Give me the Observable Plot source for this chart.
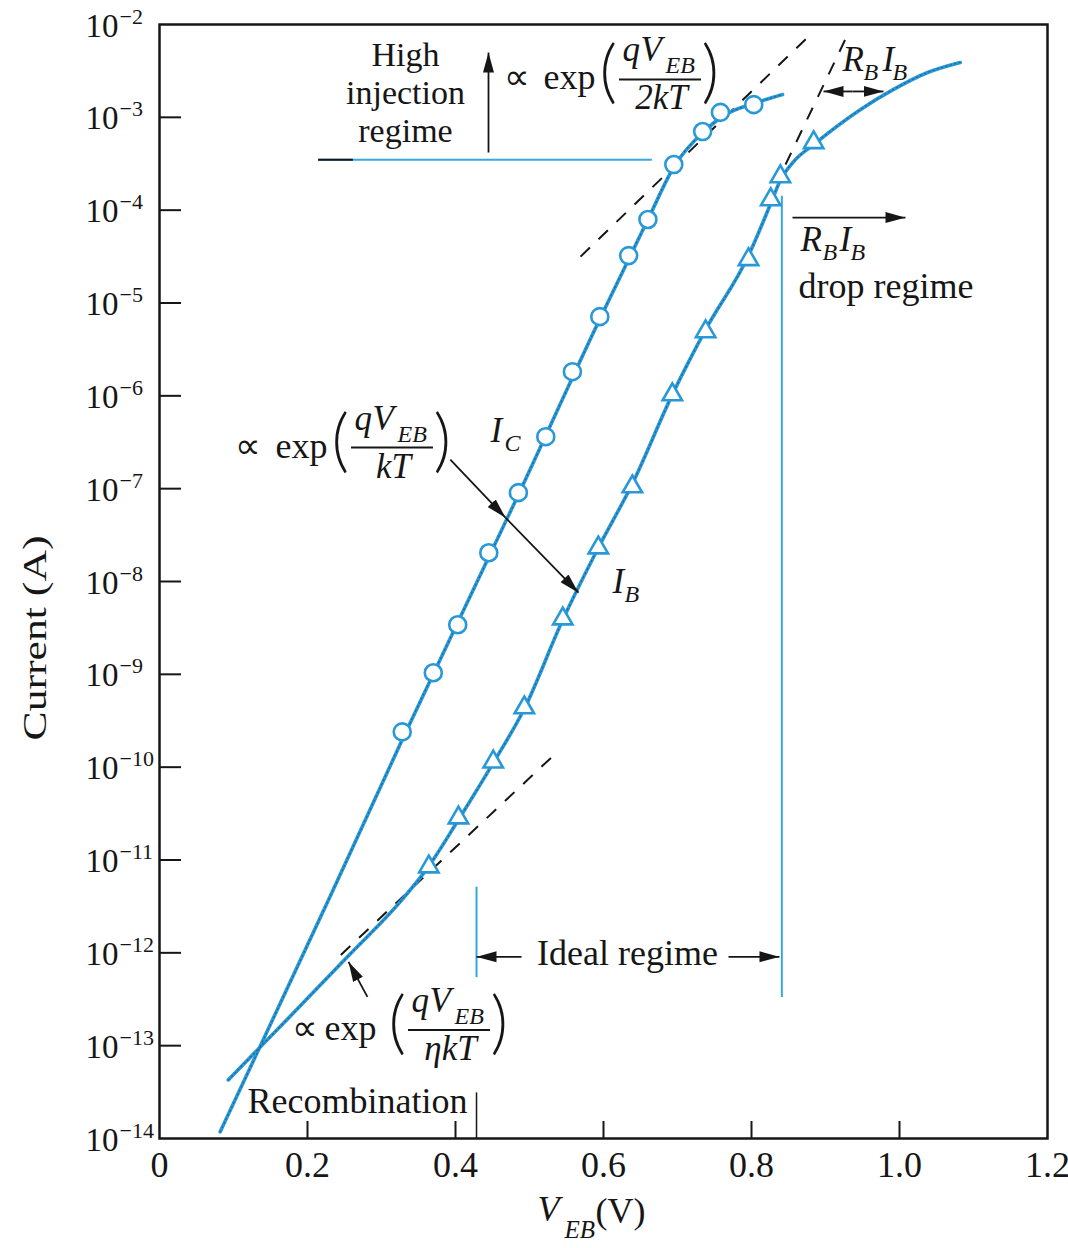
<!DOCTYPE html>
<html>
<head>
<meta charset="utf-8">
<script src="https://cdn.jsdelivr.net/npm/d3@7"></script>
<script src="https://cdn.jsdelivr.net/npm/@observablehq/plot@0.6"></script>
<style>
  html, body { margin: 0; padding: 0; background: #fff; }
</style>
</head>
<body>
<div id="chart"></div>
<script>
// Gummel plot of a bipolar transistor: collector current I_C and base current I_B
// against emitter-base voltage V_EB, with the regimes of operation marked.

// ---- scale ticks ----
const voltageTicks = [0, 0.2, 0.4, 0.6, 0.8, 1.0, 1.2];
const decadeExponents = [-2, -3, -4, -5, -6, -7, -8, -9, -10, -11, -12, -13, -14];

// ---- collector current: traced curve and measured points (V, A) ----
const collectorCurve = [
  {v: 0.082, i: 1.18e-14}, {v: 0.231, i: 4.11e-12}, {v: 0.328, i: 1.97e-10},
  {v: 0.485, i: 8.61e-8}, {v: 0.596, i: 6.97e-6}, {v: 0.660, i: 7.93e-5},
  {v: 0.697, i: 3.10e-4}, {v: 0.734, i: 6.85e-4}, {v: 0.765, i: 1.07e-3},
  {v: 0.803, i: 1.41e-3}, {v: 0.842, i: 1.76e-3}
];
const collectorPoints = [
  {v: 0.328, i: 2.40e-10}, {v: 0.370, i: 1.04e-9}, {v: 0.403, i: 3.42e-9},
  {v: 0.445, i: 2.04e-8}, {v: 0.485, i: 9.06e-8}, {v: 0.522, i: 3.63e-7},
  {v: 0.558, i: 1.82e-6}, {v: 0.595, i: 7.13e-6}, {v: 0.634, i: 3.24e-5},
  {v: 0.660, i: 7.93e-5}, {v: 0.695, i: 3.10e-4}, {v: 0.734, i: 7.03e-4},
  {v: 0.758, i: 1.13e-3}, {v: 0.803, i: 1.37e-3}
];

// ---- base current: traced curve and measured points (V, A) ----
const baseCurve = [
  {v: 0.093, i: 4.28e-14}, {v: 0.177, i: 2.09e-13}, {v: 0.254, i: 9.06e-13},
  {v: 0.326, i: 3.60e-12}, {v: 0.364, i: 8.60e-12}, {v: 0.404, i: 2.71e-11},
  {v: 0.451, i: 1.11e-10}, {v: 0.493, i: 4.26e-10}, {v: 0.545, i: 3.87e-9},
  {v: 0.593, i: 2.31e-8}, {v: 0.639, i: 1.13e-7}, {v: 0.693, i: 1.03e-6},
  {v: 0.738, i: 5.16e-6}, {v: 0.796, i: 3.25e-5}, {v: 0.826, i: 1.18e-4},
  {v: 0.839, i: 2.10e-4}, {v: 0.857, i: 3.34e-4}, {v: 0.884, i: 5.09e-4},
  {v: 0.947, i: 1.21e-3}, {v: 0.992, i: 2.00e-3}, {v: 1.038, i: 3.04e-3},
  {v: 1.082, i: 3.90e-3}
];
const basePoints = [
  {v: 0.364, i: 8.45e-12}, {v: 0.404, i: 2.85e-11}, {v: 0.451, i: 1.14e-10},
  {v: 0.493, i: 4.37e-10}, {v: 0.545, i: 3.97e-9}, {v: 0.593, i: 2.31e-8},
  {v: 0.639, i: 1.05e-7}, {v: 0.693, i: 1.03e-6}, {v: 0.738, i: 4.92e-6},
  {v: 0.796, i: 2.94e-5}, {v: 0.826, i: 1.30e-4}, {v: 0.839, i: 2.30e-4},
  {v: 0.884, i: 5.35e-4}
];

// ---- dashed asymptotes: 2kT high injection, ideal I_B extension, recombination ----
const asymptotes = [
  {v1: 0.569, i1: 3.16e-5, v2: 0.877, i2: 7.43e-3},
  {v1: 0.846, i1: 3.10e-4, v2: 0.928, i2: 7.24e-3},
  {v1: 0.245, i1: 9.50e-13, v2: 0.538, i2: 1.47e-10}
];

// ---- regime boundaries ----
const regimeBounds = [
  {v: 0.4284, lo: 5.4e-13, hi: 5.1e-12},
  {v: 0.841, lo: 3.3e-13, hi: 1.41e-4}
];
const highInjectionLevel = [{i: 3.5e-4, v1: 0.215, v2: 0.666}];
const highInjectionLead = [{i: 3.5e-4, v1: 0.215, v2: 0.262}];
const recombinationEdge = [{v: 0.4284, lo: 1e-14, hi: 3.1e-14}];

// ---- arrows (tail -> head) ----
const arrows = [
  {v1: 0.4446, i1: 4.18e-4, v2: 0.4446, i2: 4.99e-3},
  {v1: 0.393, i1: 2.05e-7, v2: 0.4676, i2: 4.87e-8},
  {v1: 0.4676, i1: 4.87e-8, v2: 0.5662, i2: 7.57e-9},
  {v1: 0.281, i1: 3.36e-13, v2: 0.2554, i2: 8.0e-13},
  {v1: 0.4892, i1: 9.06e-13, v2: 0.4284, i2: 9.06e-13},
  {v1: 0.7689, i1: 9.06e-13, v2: 0.8378, i2: 9.06e-13},
  {v1: 0.9365, i1: 1.90e-3, v2: 0.8973, i2: 1.90e-3},
  {v1: 0.9365, i1: 1.90e-3, v2: 0.9784, i2: 1.90e-3},
  {v1: 0.8554, i1: 8.32e-5, v2: 1.0081, i2: 8.32e-5}
];

// ---- text annotations ----
const notes = [
  {v: 0.3324, i: 3.61e-3, t: "High", anchor: "middle", size: 34},
  {v: 0.3324, i: 1.408e-3, t: "injection", anchor: "middle", size: 34},
  {v: 0.3324, i: 5.49e-4, t: "regime", anchor: "middle", size: 34},
  {v: 0.6324, i: 7.43e-13, t: "Ideal regime", anchor: "middle", size: 36},
  {v: 0.8635, i: 1.12e-5, t: "drop regime", anchor: "start", size: 36},
  {v: 0.1189, i: 1.89e-14, t: "Recombination", anchor: "start", size: 36}
];
const currentSymbols = [
  {v: 0.4473, i: 3.21e-7, parts: [["I", 0, false], ["C", 14, true]]},
  {v: 0.6122, i: 7.57e-9, parts: [["I", 0, false], ["B", 12, true]]},
  {v: 0.9230, i: 3.12e-3, parts: [["R", 0, false], ["B", 21, true], ["I", 40, false], ["B", 50, true]]},
  {v: 0.8662, i: 3.65e-5, parts: [["R", 0, false], ["B", 22, true], ["I", 39, false], ["B", 50, true]]}
];
const formulas = [
  {v: 0.4649, i: 2.0e-3, gap: 40, denominator: "2kT"},
  {v: 0.1027, i: 2.16e-7, gap: 40, denominator: "kT"},
  {v: 0.1797, i: 1.15e-13, gap: 32, denominator: "\u03b7kT"}
];

// ---- styling ----
const W = 1068, H = 1248;
const M = {top: 24, right: 21, bottom: 110, left: 159};
const frameW = W - M.left - M.right;
const frameH = H - M.top - M.bottom;
const ink = "#161616";
const curveBlue = "#2898d8";
const ruleBlue = "#34a8e0";
const serif = "'Liberation Serif', 'Times New Roman', serif";
const thin = "Lato, 'Open Sans', sans-serif";

function txt(datum, t, {dx = 0, dy = 0, size = 36, italic = false, anchor = "start", family = serif, weight = "normal"} = {}) {
  return Plot.text([datum], {
    x: "v", y: "i", text: () => t, dx, dy,
    fontSize: size, fontStyle: italic ? "italic" : "normal", fontWeight: weight,
    fontFamily: family, textAnchor: anchor, lineAnchor: "bottom", fill: ink
  });
}

// "∝ exp( qV_EB / denominator )" built around an anchor at the start of "∝"
function proportionality(f) {
  return [
    txt(f, "\u221d", {size: 36}),
    txt(f, "exp", {dx: f.gap, size: 36}),
    txt(f, "(", {dx: 96, dy: 6, size: 68, family: thin, weight: 300}),
    txt(f, "q", {dx: 119, dy: -28, size: 35, italic: true}),
    txt(f, "V", {dx: 137, dy: -28, size: 35, italic: true}),
    txt(f, "EB", {dx: 162, dy: -16, size: 24, italic: true}),
    Plot.ruleY([f], {x1: "v", x2: "v", y: "i", insetLeft: 116, insetRight: -198, dy: -10, stroke: ink, strokeWidth: 2}),
    txt(f, f.denominator, {dx: 158, dy: 20, size: 35, italic: true, anchor: "middle"}),
    txt(f, ")", {dx: 198, dy: 6, size: 68, family: thin, weight: 300})
  ];
}

function symbol(s) {
  return s.parts.map(([t, dx, sub]) =>
    txt(s, t, {dx, dy: sub ? 9 : 0, size: sub ? 24 : 35, italic: true}));
}

const innerVoltages = voltageTicks.filter(d => d > 0 && d < 1.2);
const innerDecades = decadeExponents.filter(e => e < -2 && e > -14);
const axisTitleX = [{v: 0.5108}];

const chart = Plot.plot({
  width: W, height: H,
  marginTop: M.top, marginRight: M.right, marginBottom: M.bottom, marginLeft: M.left,
  x: {domain: [0, 1.2], axis: null},
  y: {type: "log", domain: [1e-14, 1e-2], axis: null},
  style: {fontFamily: serif, background: "white", color: ink, overflow: "visible"},
  marks: [
    // inward ticks
    Plot.tickX(innerVoltages, {x: d => d, insetTop: frameH - 17, stroke: ink, strokeWidth: 2}),
    Plot.tickY(innerDecades, {y: e => 10 ** e, insetRight: frameW - 22, stroke: ink, strokeWidth: 2}),

    // tick labels
    Plot.text(voltageTicks, {
      x: d => d, frameAnchor: "bottom", dy: 38, lineAnchor: "bottom",
      text: d => d === 0 ? "0" : d.toFixed(1), fontSize: 36, fontFamily: serif, fill: ink
    }),
    Plot.text(decadeExponents, {
      y: e => 10 ** e, frameAnchor: "left", dx: -41, dy: 12, lineAnchor: "bottom",
      textAnchor: "end", text: () => "10", fontSize: 33, fontFamily: serif, fill: ink
    }),
    Plot.text(decadeExponents, {
      y: e => 10 ** e, frameAnchor: "left", dx: -40, dy: -1, lineAnchor: "bottom",
      textAnchor: "start", text: e => "\u2212" + Math.abs(e), fontSize: 22, fontFamily: serif, fill: ink
    }),

    // axis titles
    Plot.text(["Current (A)"], {
      frameAnchor: "left", dx: -124, dy: 159, rotate: -90, text: d => d, textAnchor: "start",
      fontSize: 33, fontFamily: serif, fill: ink
    }),
    Plot.text(axisTitleX, {x: "v", frameAnchor: "bottom", dy: 82, lineAnchor: "bottom", textAnchor: "start", text: () => "V", fontSize: 36, fontStyle: "italic", fontFamily: serif, fill: ink}),
    Plot.text(axisTitleX, {x: "v", frameAnchor: "bottom", dx: 27, dy: 99, lineAnchor: "bottom", textAnchor: "start", text: () => "EB", fontSize: 25, fontStyle: "italic", fontFamily: serif, fill: ink}),
    Plot.text(axisTitleX, {x: "v", frameAnchor: "bottom", dx: 58, dy: 84, lineAnchor: "bottom", textAnchor: "start", text: () => "(V)", fontSize: 36, fontFamily: serif, fill: ink}),

    // regime boundaries
    Plot.ruleX(regimeBounds, {x: "v", y1: "lo", y2: "hi", stroke: ruleBlue, strokeWidth: 2}),
    Plot.ruleY(highInjectionLevel, {y: "i", x1: "v1", x2: "v2", stroke: ruleBlue, strokeWidth: 2}),
    Plot.ruleY(highInjectionLead, {y: "i", x1: "v1", x2: "v2", stroke: ink, strokeWidth: 2}),
    Plot.ruleX(recombinationEdge, {x: "v", y1: "lo", y2: "hi", stroke: ink, strokeWidth: 1.5}),

    // dashed asymptotes
    Plot.link(asymptotes, {x1: "v1", y1: "i1", x2: "v2", y2: "i2", stroke: ink, strokeWidth: 2, strokeDasharray: "13,12"}),

    // measured currents
    Plot.line(collectorCurve, {x: "v", y: "i", curve: "monotone-x", stroke: curveBlue, strokeWidth: 3.6}),
    Plot.line(baseCurve, {x: "v", y: "i", curve: "monotone-x", stroke: curveBlue, strokeWidth: 3.6}),
    Plot.line(collectorCurve, {x: "v", y: "i", curve: "monotone-x", stroke: "#12364d", strokeWidth: 1.1, strokeDasharray: "1.5,3", strokeOpacity: 0.5}),
    Plot.line(baseCurve, {x: "v", y: "i", curve: "monotone-x", stroke: "#12364d", strokeWidth: 1.1, strokeDasharray: "1.5,3", strokeOpacity: 0.5}),
    Plot.dot(collectorPoints, {x: "v", y: "i", symbol: "circle", r: 8.5, fill: "white", stroke: curveBlue, strokeWidth: 2.6}),
    Plot.dot(basePoints, {x: "v", y: "i", symbol: "triangle", r: 7.2, fill: "white", stroke: curveBlue, strokeWidth: 2.6}),

    // arrows
    Plot.link(arrows, {x1: "v1", y1: "i1", x2: "v2", y2: "i2", stroke: ink, strokeWidth: 1.8, markerEnd: "arrow"}),

    // annotations
    ...notes.map(n => txt(n, n.t, {size: n.size, anchor: n.anchor})),
    ...currentSymbols.flatMap(symbol),
    ...formulas.flatMap(proportionality),

    Plot.frame({stroke: ink, strokeWidth: 2.5})
  ]
});

// solid triangular arrowheads
chart.querySelectorAll("marker").forEach(m => {
  m.setAttribute("viewBox", "-20 -6 20 12");
  m.setAttribute("markerWidth", "20");
  m.setAttribute("markerHeight", "12");
  m.setAttribute("markerUnits", "userSpaceOnUse");
  m.setAttribute("refX", "0");
  m.setAttribute("refY", "0");
  m.setAttribute("orient", "auto");
  m.setAttribute("fill", ink);
  m.setAttribute("stroke", "none");
  m.innerHTML = '<path d="M-20,-5.5L0,0L-20,5.5Z"></path>';
});

// the vertical axis title is set in a tall, narrow face
chart.querySelectorAll("text").forEach(t => {
  if (t.textContent === "Current (A)") {
    t.setAttribute("textLength", "205");
    t.setAttribute("lengthAdjust", "spacingAndGlyphs");
  }
});

document.getElementById("chart").append(chart);
</script>
</body>
</html>
